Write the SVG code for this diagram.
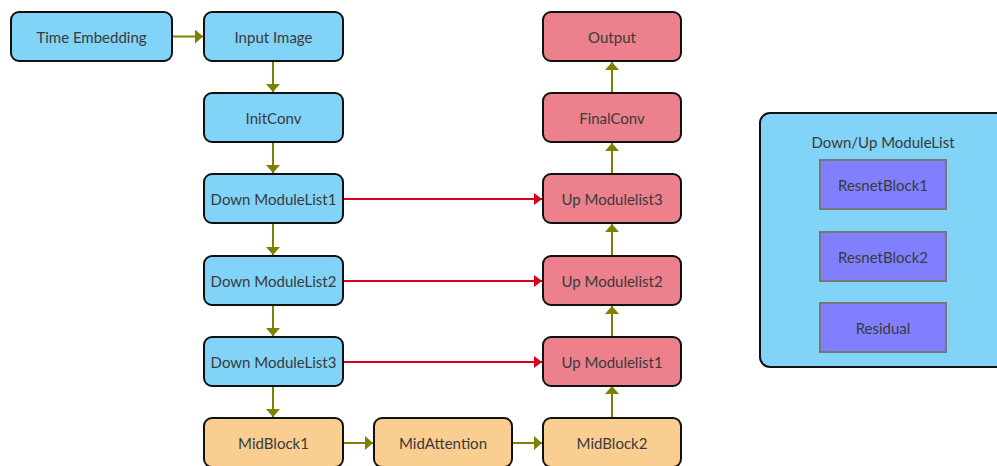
<svg xmlns="http://www.w3.org/2000/svg" width="997" height="466" viewBox="0 0 997 466">
<style>
.n{stroke:#111;stroke-width:2}
.b{fill:#81d3f8}
.p{fill:#ec808d}
.o{fill:#facd91}
.t{font-family:Lato,"Liberation Sans",sans-serif;font-size:15px;fill:#3a3a3a;text-anchor:middle;dominant-baseline:central}
.inner{fill:#8080ff;stroke:#777;stroke-width:2}
.g{stroke:#808000;stroke-width:2;fill:none}
.r{stroke:#d9001b;stroke-width:2;fill:none}
</style>
<defs>
<marker id="ag" viewBox="0 0 8 14" refX="8" refY="7" markerWidth="8" markerHeight="14" markerUnits="userSpaceOnUse" orient="auto"><path d="M0,0 L8,7 L0,14 z" fill="#808000"/></marker>
<marker id="ar" viewBox="0 0 8 12" refX="8" refY="6" markerWidth="8" markerHeight="12" markerUnits="userSpaceOnUse" orient="auto"><path d="M0,0 L8,6 L0,12 z" fill="#d9001b"/></marker>
</defs>
<rect width="997" height="466" fill="#fff"/>
<g id="connectors">
<path class="g" d="M172,36.5 H203" marker-end="url(#ag)"/>
<path class="g" d="M273,61 V92" marker-end="url(#ag)"/>
<path class="g" d="M273,142 V173" marker-end="url(#ag)"/>
<path class="g" d="M273,223 V255" marker-end="url(#ag)"/>
<path class="g" d="M273,305 V336" marker-end="url(#ag)"/>
<path class="g" d="M273,385 V417" marker-end="url(#ag)"/>
<path class="g" d="M342,443 H373" marker-end="url(#ag)"/>
<path class="g" d="M512,443 H542" marker-end="url(#ag)"/>
<path class="g" d="M612,418 V386" marker-end="url(#ag)"/>
<path class="g" d="M612,337 V306" marker-end="url(#ag)"/>
<path class="g" d="M612,256 V224" marker-end="url(#ag)"/>
<path class="g" d="M612,174 V143" marker-end="url(#ag)"/>
<path class="g" d="M612,93 V62" marker-end="url(#ag)"/>
<path class="r" d="M342,199 H542" marker-end="url(#ar)"/>
<path class="r" d="M342,281 H542" marker-end="url(#ar)"/>
<path class="r" d="M342,362 H542" marker-end="url(#ar)"/>
</g>
<g id="time-embedding"><rect class="n b" x="11" y="12" width="161" height="49" rx="8"/><text class="t" x="91.5" y="37">Time Embedding</text></g>
<g id="input-image"><rect class="n b" x="204" y="12" width="139" height="49" rx="8"/><text class="t" x="273.5" y="37">Input Image</text></g>
<g id="initconv"><rect class="n b" x="204" y="93" width="139" height="49" rx="8"/><text class="t" x="273.5" y="118">InitConv</text></g>
<g id="down1"><rect class="n b" x="204" y="174" width="139" height="49" rx="8"/><text class="t" x="273.5" y="199">Down ModuleList1</text></g>
<g id="down2"><rect class="n b" x="204" y="256" width="139" height="49" rx="8"/><text class="t" x="273.5" y="281">Down ModuleList2</text></g>
<g id="down3"><rect class="n b" x="204" y="337" width="139" height="49" rx="8"/><text class="t" x="273.5" y="362">Down ModuleList3</text></g>
<g id="midblock1"><rect class="n o" x="204" y="418" width="139" height="49" rx="8"/><text class="t" x="273.5" y="443">MidBlock1</text></g>
<g id="midattention"><rect class="n o" x="374" y="418" width="138" height="49" rx="8"/><text class="t" x="443" y="443">MidAttention</text></g>
<g id="midblock2"><rect class="n o" x="543" y="418" width="138" height="49" rx="8"/><text class="t" x="612" y="443">MidBlock2</text></g>
<g id="up1"><rect class="n p" x="543" y="337" width="138" height="49" rx="8"/><text class="t" x="612" y="362">Up Modulelist1</text></g>
<g id="up2"><rect class="n p" x="543" y="256" width="138" height="49" rx="8"/><text class="t" x="612" y="281">Up Modulelist2</text></g>
<g id="up3"><rect class="n p" x="543" y="174" width="138" height="49" rx="8"/><text class="t" x="612" y="199">Up Modulelist3</text></g>
<g id="finalconv"><rect class="n p" x="543" y="93" width="138" height="49" rx="8"/><text class="t" x="612" y="118">FinalConv</text></g>
<g id="output"><rect class="n p" x="543" y="12" width="138" height="49" rx="8"/><text class="t" x="612" y="37">Output</text></g>
<g id="moduleList-panel">
<rect class="n b" x="760" y="113" width="260" height="254" rx="10"/>
<text class="t" x="883" y="142">Down/Up ModuleList</text>
<g id="resnet1"><rect class="inner" x="820" y="160" width="126" height="49"/><text class="t" x="883" y="185">ResnetBlock1</text></g>
<g id="resnet2"><rect class="inner" x="820" y="232" width="126" height="49"/><text class="t" x="883" y="257">ResnetBlock2</text></g>
<g id="residual"><rect class="inner" x="820" y="303" width="126" height="49"/><text class="t" x="883" y="328">Residual</text></g>
</g>
</svg>
